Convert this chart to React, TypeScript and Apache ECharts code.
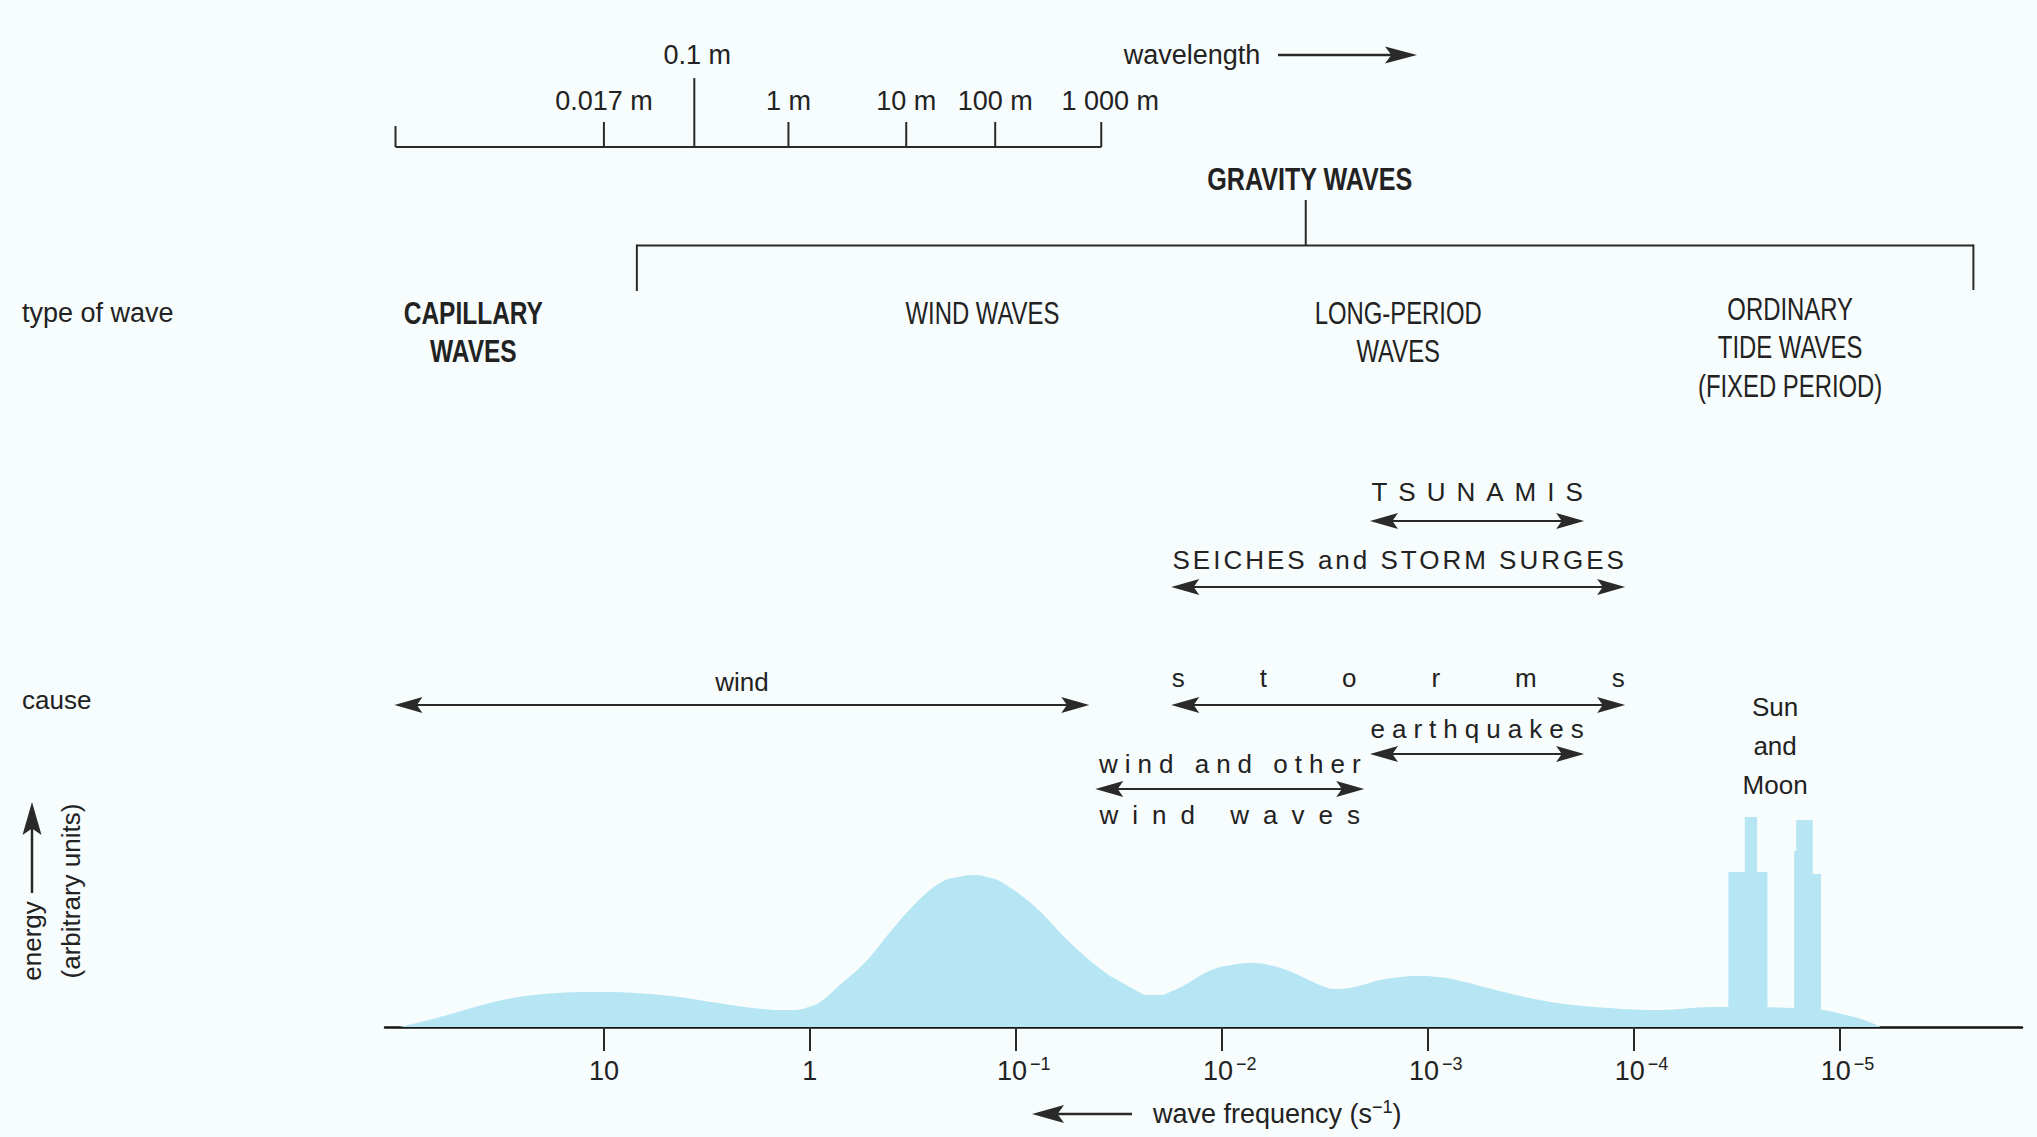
import React, { useEffect, useRef } from 'react';
import * as echarts from 'echarts';

// ---------- DATA ----------
// bottom axis: log10 of wave frequency (s^-1); axis runs from high to low frequency
const freqTickExponents = [1, 0, -1, -2, -3, -4, -5];
const freqAxisRange = [-5.886, 2.063];

// broad energy spectrum (arbitrary units) sampled at log10(frequency)
const spectrumLogF = [1.99, 1.85, 1.71, 1.59, 1.47, 1.34, 1.22, 1.1, 0.97, 0.85, 0.72, 0.6, 0.48, 0.35, 0.23, 0.15, 0.08, 0.02, -0.05, -0.14, -0.27, -0.39, -0.52, -0.64, -0.72, -0.79, -0.86, -0.93, -1.09, -1.26, -1.43, -1.52, -1.58, -1.64, -1.7, -1.76, -1.82, -1.95, -2.05, -2.15, -2.25, -2.35, -2.5, -2.56, -2.62, -2.7, -2.77, -2.87, -2.96, -3.05, -3.14, -3.39, -3.63, -3.88, -4.13, -4.38, -4.57, -4.76, -4.92, -5.03, -5.12, -5.2];
const spectrumEnergy = [0, 7, 15, 22, 28, 32, 34, 35, 35, 34, 32, 29, 25, 21, 18, 17, 17, 19, 25, 41, 65, 95, 125, 145, 150, 152, 150, 145, 121, 85, 55, 44, 37, 32, 32, 36, 42, 57, 62, 64, 61, 54, 40, 38, 39, 43, 47, 50, 51, 50, 47, 34, 24, 19, 17, 20, 20, 19, 17, 12, 7, 0];

// tidal lines (Sun and Moon)
const tideLogF = [-4.46, -4.46, -4.54, -4.54, -4.6, -4.6, -4.65, -4.65, -4.78, -4.78, -4.79, -4.79, -4.87, -4.87, -4.91, -4.91];
const tideEnergy = [0, 155, 155, 210, 210, 155, 155, 0, 0, 176, 176, 207, 207, 153, 153, 0];
const tideLabel = ['Sun', 'and', 'Moon'];
const tideLabelLogF = -4.687;

// wavelength scale (positions expressed on the frequency axis)
const wavelengthLabels = ['', '0.017 m', '0.1 m', '1 m', '10 m', '100 m', '1 000 m'];
const wavelengthLogF = [2.012, 1.0, 0.561, 0.104, -0.468, -0.9, -1.415];

// types of wave
const waveTypeLines = [['CAPILLARY', 'WAVES'], ['WIND WAVES'], ['LONG-PERIOD', 'WAVES'], ['ORDINARY', 'TIDE WAVES', '(FIXED PERIOD)']];
const waveTypeLogF = [1.634, -0.838, -2.857, -4.76];
const waveTypeBold = [true, false, false, false];
const gravityLabel = 'GRAVITY WAVES';
const gravityRangeLogF = [0.84, -5.65];
const gravityStemLogF = -2.408;

// causes (ranges on the frequency axis)
const causeLabels = ['TSUNAMIS', 'SEICHES and STORM SURGES', 'storms', 'earthquakes', 'wind and other', 'wind'];
const causeSubLabels = ['', '', '', '', 'wind waves', ''];
const causeFromLogF = [-2.72, -1.755, -1.755, -2.72, -1.386, 2.017];
const causeToLogF = [-3.76, -3.959, -3.959, -3.76, -2.692, -1.357];

// ---------- LAYOUT / STYLE ----------
const W = 2037;
const H = 1137;
const INK = '#222';
const LINE = '#2a2a2a';
const FILL = '#b6e6f3';
const BG = '#f7fcfd';
const REG = "'Liberation Sans', Arial, sans-serif";
const spaced = (ls: number) => (ls ? `'Liberation Sans', lsp${ls}z, sans-serif` : REG);

const WL_Y = 147;
const waveTypeYShift = [0, 0, 0, -4];
const causeArrowY = [521, 587, 705, 754, 789, 705];
const causeTextY = [492, 560, 678, 729, 764, 682];
const causeSpacing = [11, 3, 75, 7, 7, 0];
const causeSubY = 815;
const causeSubSpacing = 14;
const allSpacings = [11, 3, 75, 7, 14];

const css =
  'body{margin:0}' +
  allSpacings
    .map((s) => `text[style*="lsp${s}z"],text[font-family*="lsp${s}z"]{letter-spacing:${s}px}`)
    .join('');

function txt(x: number, y: number, text: string, o: any = {}) {
  const align = o.align || 'center';
  return {
    type: 'text',
    x,
    y,
    rotation: o.rotation || 0,
    scaleX: o.scaleX || 1,
    silent: true,
    style: {
      text,
      fill: o.color || INK,
      fontSize: o.size || 26,
      fontFamily: o.family || REG,
      fontWeight: o.weight || 'normal',
      align,
      textAlign: align,
      verticalAlign: 'middle',
      textVerticalAlign: 'middle',
      rich: o.rich,
    },
  };
}

function seg(x1: number, y1: number, x2: number, y2: number, w = 2) {
  return {
    type: 'line',
    silent: true,
    shape: { x1, y1, x2, y2 },
    style: { stroke: LINE, lineWidth: w },
  };
}

function head(tx: number, ty: number, dir: string, L: number, Wd: number) {
  const n = 0.8;
  let pts: number[][];
  if (dir === 'left') pts = [[tx, ty], [tx + L, ty - Wd], [tx + L * n, ty], [tx + L, ty + Wd]];
  else if (dir === 'right') pts = [[tx, ty], [tx - L, ty - Wd], [tx - L * n, ty], [tx - L, ty + Wd]];
  else pts = [[tx, ty], [tx - Wd, ty + L], [tx, ty + L * n], [tx + Wd, ty + L]];
  return { type: 'polygon', silent: true, shape: { points: pts }, style: { fill: LINE } };
}

function doubleArrow(x1: number, x2: number, y: number, L = 28, Wd = 8) {
  return [seg(x1 + L * 0.6, y, x2 - L * 0.6, y, 2), head(x1, y, 'left', L, Wd), head(x2, y, 'right', L, Wd)];
}

function spacedText(cx: number, y: number, text: string, ls: number) {
  return txt(cx + ls / 2, y, text, { family: spaced(ls), size: 26 });
}

function renderAnnotations(_params: any, api: any) {
  const px = (v: number) => api.coord([v, 0])[0];
  const ch: any[] = [];

  // wavelength scale
  const wx0 = px(wavelengthLogF[0]);
  const wx1 = px(wavelengthLogF[wavelengthLogF.length - 1]);
  ch.push(seg(wx0, WL_Y, wx1, WL_Y, 2));
  wavelengthLogF.forEach((p, i) => {
    const x = px(p);
    const major = wavelengthLabels[i] === '0.1 m';
    const top = major ? 78 : i === 0 ? 126 : 122;
    ch.push(seg(x, top, x, WL_Y, 2));
    if (wavelengthLabels[i]) {
      const dx = i === wavelengthLabels.length - 1 ? 9 : major ? 3 : 0;
      ch.push(txt(x + dx, major ? 55 : 101, wavelengthLabels[i], { size: 27 }));
    }
  });

  // gravity waves bracket
  const gx0 = px(gravityRangeLogF[0]);
  const gx1 = px(gravityRangeLogF[1]);
  const gs = px(gravityStemLogF);
  ch.push(seg(gx0, 245.5, gx1, 245.5, 2));
  ch.push(seg(gx0, 244.5, gx0, 291, 2));
  ch.push(seg(gx1, 244.5, gx1, 290, 2));
  ch.push(seg(gs, 200, gs, 245.5, 2));
  ch.push(txt(gs + 4, 179, gravityLabel, { size: 31, weight: 'bold', scaleX: 0.81 }));

  // types of wave
  waveTypeLines.forEach((lines, i) => {
    const x = px(waveTypeLogF[i]);
    lines.forEach((s, k) => {
      ch.push(
        txt(x, 313 + waveTypeYShift[i] + k * 38.5, s, {
          size: 31,
          weight: waveTypeBold[i] ? 'bold' : 'normal',
          scaleX: waveTypeBold[i] ? 0.79 : 0.77,
        })
      );
    });
  });

  // causes
  causeLabels.forEach((lab, i) => {
    const x1 = px(causeFromLogF[i]);
    const x2 = px(causeToLogF[i]);
    const y = causeArrowY[i];
    doubleArrow(x1, x2, y).forEach((e) => ch.push(e));
    const cx = (x1 + x2) / 2;
    ch.push(spacedText(cx, causeTextY[i], lab, causeSpacing[i]));
    if (causeSubLabels[i]) ch.push(spacedText(cx, causeSubY, causeSubLabels[i], causeSubSpacing));
  });

  // Sun and Moon label
  const tx = px(tideLabelLogF);
  tideLabel.forEach((s, k) => ch.push(txt(tx, 707 + k * 39, s, { size: 26 })));

  return { type: 'group', children: ch };
}

function freqLabel(v: number) {
  const e = Math.round(v);
  if (e === 1) return '{b|10}';
  if (e === 0) return '{b|1}';
  return `{p|}{b|10}{s|\u2212${-e}}`;
}

function buildOption() {
  return {
    animation: false,
    backgroundColor: BG,
    grid: [{ left: 385, right: 15, top: 777, bottom: 110, containLabel: false, outerBoundsMode: 'none' }],
    xAxis: [
      {
        type: 'value',
        inverse: true,
        min: freqAxisRange[0],
        max: freqAxisRange[1],
        splitLine: { show: false },
        axisLine: { show: true, lineStyle: { color: '#151515', width: 2.5 } },
        axisTick: { show: true, customValues: freqTickExponents, length: 24, lineStyle: { color: LINE, width: 2 } },
        axisLabel: {
          show: true,
          customValues: freqTickExponents,
          margin: 28,
          formatter: freqLabel,
          rich: {
            b: { fontSize: 27, fontFamily: REG, color: INK, lineHeight: 32 },
            s: { fontSize: 18, fontFamily: REG, color: INK, lineHeight: 12, verticalAlign: 'top', padding: [0, 0, 0, 3] },
            p: { width: 16 },
          },
        },
      },
    ],
    yAxis: [{ type: 'value', min: 0, max: 250, show: false }],
    series: [
      {
        name: 'energy spectrum',
        type: 'line',
        smooth: 0.4,
        symbol: 'none',
        lineStyle: { width: 0 },
        areaStyle: { color: FILL, opacity: 1 },
        data: spectrumLogF.map((f, i) => [f, spectrumEnergy[i]]),
        z: 1,
      },
      {
        name: 'tides',
        type: 'line',
        smooth: false,
        symbol: 'none',
        lineStyle: { width: 0 },
        areaStyle: { color: FILL, opacity: 1 },
        data: tideLogF.map((f, i) => [f, tideEnergy[i]]),
        z: 1,
      },
      {
        name: 'annotations',
        type: 'custom',
        silent: true,
        clip: false,
        encode: { x: 0, y: 1 },
        data: [[0, 0]],
        renderItem: renderAnnotations,
        z: 5,
      },
    ],
    graphic: [
      txt(22, 313, 'type of wave', { align: 'left', size: 27 }),
      txt(22, 700, 'cause', { align: 'left', size: 26 }),
      txt(32, 941, 'energy', { rotation: Math.PI / 2, size: 26 }),
      txt(71, 891, '(arbitrary units)', { rotation: Math.PI / 2, size: 26 }),
      seg(32, 893, 32, 825, 2.5),
      head(32, 802, 'up', 33, 9.5),
      txt(1192, 55, 'wavelength', { size: 27 }),
      seg(1278, 55, 1395, 55, 2.5),
      head(1417, 55, 'right', 32, 8.5),
      head(1032, 1114, 'left', 32, 9),
      seg(1055, 1114, 1132, 1114, 2.5),
      txt(1153, 1114, '{a|wave frequency (s}{s|\u22121}{a|)}', {
        align: 'left',
        size: 27,
        rich: {
          a: { fontSize: 27, fontFamily: REG, fill: INK, color: INK, lineHeight: 32 },
          s: { fontSize: 18, fontFamily: REG, fill: INK, color: INK, lineHeight: 12, verticalAlign: 'top' },
        },
      }),
    ],
  };
}

export default function App() {
  const ref = useRef<HTMLDivElement>(null);
  useEffect(() => {
    document.body.style.margin = '0';
    const chart = echarts.init(ref.current as HTMLDivElement, null, { renderer: 'svg', width: W, height: H });
    chart.setOption(buildOption() as any);
    return () => chart.dispose();
  }, []);
  return (
    <>
      <style>{css}</style>
      <div ref={ref} style={{ position: 'fixed', left: 0, top: 0, width: W, height: H, background: BG }} />
    </>
  );
}
